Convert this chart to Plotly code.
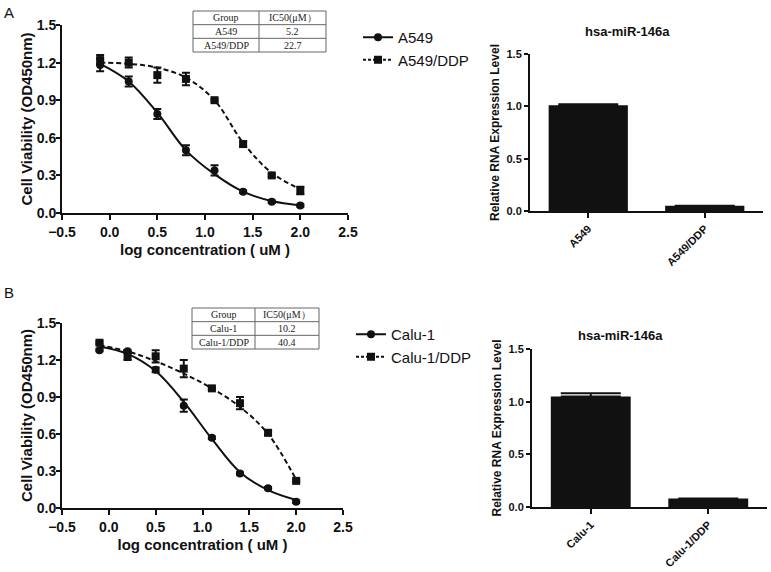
import plotly.graph_objects as go

# ---------------- data ----------------
log_conc = [-0.1, 0.2, 0.5, 0.8, 1.1, 1.4, 1.7, 2.0]

a549_mean = [1.18, 1.05, 0.79, 0.50, 0.34, 0.17, 0.09, 0.06]
a549_err = [0.05, 0.04, 0.04, 0.04, 0.04, 0.01, 0.01, 0.01]
a549ddp_mean = [1.22, 1.20, 1.10, 1.07, 0.90, 0.55, 0.30, 0.18]
a549ddp_err = [0.04, 0.04, 0.06, 0.05, 0.01, 0.02, 0.01, 0.03]

# fitted curves
a549_fit = [1.19, 1.05, 0.80, 0.50, 0.31, 0.17, 0.095, 0.06]
a549ddp_fit = [1.20, 1.19, 1.16, 1.08, 0.90, 0.56, 0.32, 0.19]

calu_mean = [1.28, 1.27, 1.12, 0.83, 0.57, 0.28, 0.16, 0.05]
calu_err = [0.01, 0.01, 0.02, 0.05, 0.01, 0.01, 0.01, 0.01]
caluddp_mean = [1.34, 1.23, 1.23, 1.13, 0.97, 0.85, 0.61, 0.22]
caluddp_err = [0.01, 0.03, 0.05, 0.07, 0.01, 0.05, 0.02, 0.01]

calu_fit = [1.31, 1.25, 1.11, 0.86, 0.56, 0.29, 0.145, 0.065]
caluddp_fit = [1.32, 1.27, 1.19, 1.09, 0.97, 0.82, 0.60, 0.23]

bar_a_cats = ["A549", "A549/DDP"]
bar_a_vals = [1.01, 0.05]
bar_a_err = [0.01, 0.0]

bar_b_cats = ["Calu-1", "Calu-1/DDP"]
bar_b_vals = [1.05, 0.08]
bar_b_err = [0.03, 0.0]

table_a = [["Group", "A549", "A549/DDP"], ["IC50(μM）", "5.2", "22.7"]]
table_b = [["Group", "Calu-1", "Calu-1/DDP"], ["IC50(μM）", "10.2", "40.4"]]

# ---------------- figure ----------------
W, H = 771, 572
BLACK = "#111111"
SANS = "Liberation Sans, Arial, sans-serif"
SERIF = "Liberation Serif, Times New Roman, serif"


def px_x(a, b):
    return [a / W, b / W]


def px_y(top, bottom):
    return [1 - bottom / H, 1 - top / H]


fig = go.Figure()


def dose_panel(xa, ya, legend, mean1, err1, fit1, mean2, err2, fit2, name1, name2):
    fig.add_trace(go.Scatter(x=log_conc, y=fit1, mode="lines", line=dict(color=BLACK, width=2, shape="spline"),
                             xaxis=xa, yaxis=ya, showlegend=False, hoverinfo="skip"))
    fig.add_trace(go.Scatter(x=log_conc, y=fit2, mode="lines",
                             line=dict(color=BLACK, width=2, shape="spline", dash="5px,3px"),
                             xaxis=xa, yaxis=ya, showlegend=False, hoverinfo="skip"))
    fig.add_trace(go.Scatter(x=log_conc, y=mean1, mode="markers",
                             marker=dict(symbol="circle", size=8, color=BLACK),
                             error_y=dict(type="data", array=err1, color=BLACK, thickness=2, width=4),
                             xaxis=xa, yaxis=ya, showlegend=False))
    fig.add_trace(go.Scatter(x=log_conc, y=mean2, mode="markers",
                             marker=dict(symbol="square", size=8, color=BLACK),
                             error_y=dict(type="data", array=err2, color=BLACK, thickness=2, width=4),
                             xaxis=xa, yaxis=ya, showlegend=False))
    fig.add_trace(go.Scatter(x=[None], y=[None], mode="lines+markers", name=name1,
                             line=dict(color=BLACK, width=2), marker=dict(symbol="circle", size=8, color=BLACK),
                             xaxis=xa, yaxis=ya, legend=legend))
    fig.add_trace(go.Scatter(x=[None], y=[None], mode="lines+markers", name=name2,
                             line=dict(color=BLACK, width=2, dash="3px,2px"),
                             marker=dict(symbol="square", size=8, color=BLACK),
                             xaxis=xa, yaxis=ya, legend=legend))


dose_panel("x", "y", "legend", a549_mean, a549_err, a549_fit, a549ddp_mean, a549ddp_err, a549ddp_fit,
           "A549", "A549/DDP")
dose_panel("x3", "y3", "legend2", calu_mean, calu_err, calu_fit, caluddp_mean, caluddp_err, caluddp_fit,
           "Calu-1", "Calu-1/DDP")

fig.add_trace(go.Bar(x=bar_a_cats, y=bar_a_vals, marker=dict(color=BLACK, line=dict(width=0)), width=0.68,
                     error_y=dict(type="data", array=bar_a_err, arrayminus=[0, 0], symmetric=False,
                                  color=BLACK, thickness=2, width=30),
                     xaxis="x2", yaxis="y2", showlegend=False))
fig.add_trace(go.Bar(x=bar_b_cats, y=bar_b_vals, marker=dict(color=BLACK, line=dict(width=0)), width=0.68,
                     error_y=dict(type="data", array=bar_b_err, arrayminus=[0, 0], symmetric=False,
                                  color=BLACK, thickness=2, width=30),
                     xaxis="x4", yaxis="y4", showlegend=False))

# tables drawn with shapes + annotations
shapes = []
annotations = []
for tbl, (x0, x1, xm, y0, y1) in [(table_a, (193, 326, 259, 11, 52)), (table_b, (192, 319, 255, 308, 349))]:
    rh = (y1 - y0) / 3
    shapes.append(dict(type="rect", xref="paper", yref="paper", x0=x0 / W, x1=x1 / W, y0=1 - y1 / H,
                       y1=1 - y0 / H, line=dict(color="#666666", width=1), fillcolor="white", layer="above"))
    shapes.append(dict(type="line", xref="paper", yref="paper", x0=xm / W, x1=xm / W, y0=1 - y1 / H,
                       y1=1 - y0 / H, line=dict(color="#666666", width=1), layer="above"))
    for r in (1, 2):
        yy = y0 + r * rh
        shapes.append(dict(type="line", xref="paper", yref="paper", x0=x0 / W, x1=x1 / W, y0=1 - yy / H,
                           y1=1 - yy / H, line=dict(color="#666666", width=1), layer="above"))
    for c, (cx0, cx1) in enumerate([(x0, xm), (xm, x1)]):
        for r in range(3):
            annotations.append(dict(text=tbl[c][r], x=(cx0 + cx1) / 2 / W, y=1 - (y0 + (r + 0.5) * rh) / H,
                                    xref="paper", yref="paper", showarrow=False, xanchor="center",
                                    yanchor="middle", font=dict(family=SERIF, size=10, color="#222222")))

AX = dict(showline=True, linecolor=BLACK, linewidth=2, ticks="outside", tickwidth=2, tickcolor=BLACK,
          showgrid=False, zeroline=False, automargin=False)

dose_x = dict(AX, range=[-0.5, 2.5], tick0=-0.5, dtick=0.5, tickformat=".1f", ticklen=5,
              tickfont=dict(family=SANS, size=14, color=BLACK, weight="bold"),
              title=dict(text="log concentration ( uM )", font=dict(family=SANS, size=15, color=BLACK, weight="bold"),
                         standoff=6))
dose_y = dict(AX, range=[0, 1.5], dtick=0.3, tickformat=".1f", ticklen=4, ticklabelstandoff=-3,
              tickfont=dict(family=SANS, size=14, color=BLACK, weight="bold"),
              title=dict(text="Cell Viability (OD450nm)", font=dict(family=SANS, size=15, color=BLACK, weight="bold"),
                         standoff=0))
bar_x = dict(AX, range=[-0.5, 1.5], ticklen=5, tickangle=-45,
             tickfont=dict(family=SANS, size=11, color=BLACK, weight="bold"))
bar_y = dict(AX, range=[0, 1.5], dtick=0.5, tickformat=".1f", ticklen=4,
             tickfont=dict(family=SANS, size=11, color=BLACK, weight="bold"),
             title=dict(text="Relative RNA Expression Level", font=dict(family=SANS, size=12, color=BLACK, weight="bold"),
                        standoff=4))

annotations += [
    dict(text="A", x=9 / W, y=1 - 13 / H, xref="paper", yref="paper", showarrow=False,
         font=dict(family=SANS, size=15, color=BLACK), xanchor="center", yanchor="middle"),
    dict(text="B", x=9 / W, y=1 - 292 / H, xref="paper", yref="paper", showarrow=False,
         font=dict(family=SANS, size=15, color=BLACK), xanchor="center", yanchor="middle"),
    dict(text="hsa-miR-146a", x=627 / W, y=1 - 32 / H, xref="paper", yref="paper", showarrow=False,
         font=dict(family=SANS, size=13, color=BLACK, weight="bold"), xanchor="center", yanchor="middle"),
    dict(text="hsa-miR-146a", x=620 / W, y=1 - 335 / H, xref="paper", yref="paper", showarrow=False,
         font=dict(family=SANS, size=13, color=BLACK, weight="bold"), xanchor="center", yanchor="middle"),
]

fig.update_layout(
    width=W, height=H, margin=dict(l=0, r=0, t=0, b=0, autoexpand=False), paper_bgcolor="white",
    plot_bgcolor="white",
    xaxis=dict(dose_x, domain=px_x(62, 348), anchor="y"),
    yaxis=dict(dose_y, domain=px_y(25, 213), anchor="x"),
    xaxis3=dict(dose_x, domain=px_x(62, 343), anchor="y3"),
    yaxis3=dict(dose_y, domain=px_y(323, 508), anchor="x3"),
    xaxis2=dict(bar_x, domain=px_x(530, 763), anchor="y2"),
    yaxis2=dict(bar_y, domain=px_y(54, 211), anchor="x2"),
    xaxis4=dict(bar_x, domain=px_x(532, 767), anchor="y4"),
    yaxis4=dict(bar_y, domain=px_y(349, 507), anchor="x4"),
    legend=dict(x=358 / W, y=1 - 21 / H, xanchor="left", yanchor="top", bgcolor="rgba(0,0,0,0)",
                font=dict(family=SANS, size=15, color=BLACK), itemwidth=30, tracegroupgap=0),
    legend2=dict(x=351 / W, y=1 - 318 / H, xanchor="left", yanchor="top", bgcolor="rgba(0,0,0,0)",
                 font=dict(family=SANS, size=15, color=BLACK), itemwidth=30, tracegroupgap=0),
    shapes=shapes,
    annotations=annotations,
)

fig.write_html("out.html", config={"displayModeBar": False},
               post_script="document.body.style.margin='0';document.body.style.overflow='hidden';")
